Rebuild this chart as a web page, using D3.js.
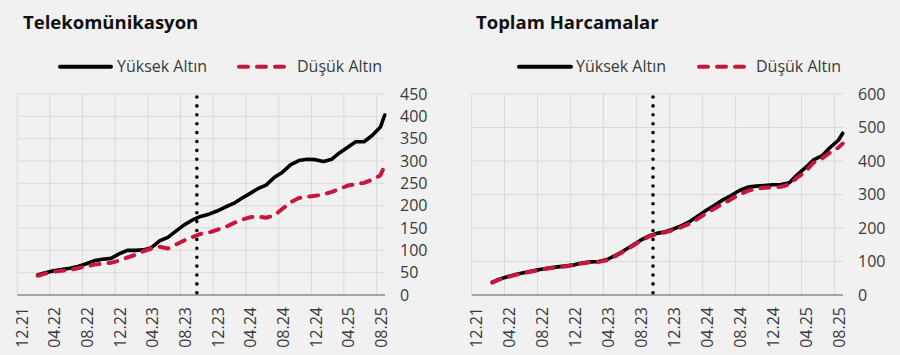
<!DOCTYPE html>
<html><head><meta charset="utf-8">
<script src="https://cdn.jsdelivr.net/npm/d3@7"></script>
<style>
html,body{margin:0;padding:0;background:#f1f1f1;}
svg{display:block;font-family:"Open Sans",sans-serif;}
</style>
</head><body>
<svg id="chart" width="900" height="355"></svg>
<script>
// ---- data ----
const titles = ["Telekomünikasyon", "Toplam Harcamalar"];
const seriesNames = ["Yüksek Altın", "Düşük Altın"];
const xTickLabels = ["12.21","04.22","08.22","12.22","04.23","08.23","12.23","04.24","08.24","12.24","04.25","08.25"];
const dates = [
 "2022-02-15","2022-03-15","2022-04-15","2022-05-15","2022-06-15","2022-07-15","2022-08-15","2022-09-15","2022-10-15","2022-11-15","2022-12-15",
 "2023-01-15","2023-02-15","2023-03-15","2023-04-15","2023-05-15","2023-06-15","2023-07-15","2023-08-15","2023-09-15","2023-10-15","2023-11-15","2023-12-15",
 "2024-01-15","2024-02-15","2024-03-15","2024-04-15","2024-05-15","2024-06-15","2024-07-15","2024-08-15","2024-09-15","2024-10-15","2024-11-15","2024-12-15",
 "2025-01-15","2025-02-15","2025-03-15","2025-04-15","2025-05-15","2025-06-15","2025-07-15","2025-08-15","2025-08-31"
];
const teleHigh = [45,50,54,57,60,64,70,77,80,82,92,100,100,101,106,121,129,143,157,168,176,181,188,197,205,216,227,238,246,263,275,292,301,304,303,299,304,318,331,343,343,357,376,403];
const teleLow  = [43,48,52,54,56,60,64,68,70,72,77,84,90,98,104,108,104,113,122,130,137,140,146,152,161,168,174,176,173,178,193,208,217,220,222,225,231,237,245,248,251,258,268,290];
const totalHigh = [38,48,55,62,67,72,77,81,84,87,90,96,99,100,106,118,132,147,163,176,184,189,197,207,220,236,253,268,284,297,312,322,325,327,329,330,335,358,380,403,415,440,462,483];
const totalLow  = [37,47,54,61,66,71,76,80,83,86,89,95,98,99,104,116,130,145,161,174,182,187,194,203,214,228,244,258,272,286,300,311,317,320,322,323,330,350,368,395,407,425,440,452];
const teleYTicks = [0,50,100,150,200,250,300,350,400,450];
const totalYTicks = [0,100,200,300,400,500,600];
const markerDate = "2023-10-01";
const axisStart = "2021-12-01", axisEnd = "2025-09-01";

// ---- drawing ----
const svg = d3.select("#chart");
const parseISO = d3.timeParse("%Y-%m-%d");
const parseLbl = d3.timeParse("%m.%y");
const RED = "#c8173f", TXT = "#3a3a3a", GRID = "#d9d9d9";

function panel(cfg) {
  const g = svg.append("g");
  const top = 94, bottom = 295;
  const x = d3.scaleTime().domain([parseISO(axisStart), parseISO(axisEnd)]).range([cfg.left, cfg.right]);
  const y = d3.scaleLinear().domain([0, d3.max(cfg.yTicks)]).range([bottom, top]);

  // horizontal grid
  g.append("g").selectAll("line").data(cfg.yTicks.filter(d => d > 0)).join("line")
    .attr("x1", cfg.left).attr("x2", cfg.right)
    .attr("y1", d => y(d)).attr("y2", d => y(d))
    .attr("stroke", GRID).attr("stroke-width", 1);
  // vertical grid (category boundaries)
  g.append("g").selectAll("line").data(xTickLabels.map(parseLbl)).join("line")
    .attr("x1", d => x(d)).attr("x2", d => x(d))
    .attr("y1", top).attr("y2", bottom)
    .attr("stroke", GRID).attr("stroke-width", 1);
  // baseline
  g.append("line").attr("x1", cfg.left).attr("x2", cfg.right)
    .attr("y1", y(0)).attr("y2", y(0)).attr("stroke", "#8a8a8a").attr("stroke-width", 1.6);

  // x axis labels (at category centre)
  const xa = d3.axisBottom(x)
    .tickValues(xTickLabels.map(l => d3.timeDay.offset(parseLbl(l), 15)))
    .tickFormat(d3.timeFormat("%m.%y")).tickSize(0);
  const xg = g.append("g").attr("transform", `translate(0,${bottom})`).call(xa);
  xg.select(".domain").remove();
  xg.selectAll("text")
    .attr("transform", "rotate(-90)")
    .attr("text-anchor", "end")
    .attr("x", -12).attr("y", 0).attr("dy", "0.36em")
    .attr("fill", TXT).style("font-size", "16px").style("font-family", '"Open Sans",sans-serif');

  // y axis labels on the right
  const ya = d3.axisRight(y).tickValues(cfg.yTicks).tickSize(0).tickFormat(d3.format("d"));
  const yg = g.append("g").attr("transform", `translate(${cfg.right + 15},0)`).call(ya);
  yg.select(".domain").remove();
  yg.selectAll("text").attr("x", 0).attr("text-anchor", "start")
    .attr("fill", TXT).style("font-size", "16px").style("font-family", '"Open Sans",sans-serif');

  const pts = dates.map(parseISO);
  const line = d3.line().x((d, i) => x(pts[i])).y(d => y(d)).curve(d3.curveLinear);

  // dotted marker
  g.append("line")
    .attr("x1", x(parseISO(markerDate))).attr("x2", x(parseISO(markerDate)))
    .attr("y1", top + 3).attr("y2", bottom + 1)
    .attr("stroke", "#000").attr("stroke-width", 3.6)
    .attr("stroke-linecap", "round").attr("stroke-dasharray", "0 8.9");

  g.append("path").datum(cfg.high).attr("d", line)
    .attr("fill", "none").attr("stroke", "#000").attr("stroke-width", 3.6)
    .attr("stroke-linejoin", "round").attr("stroke-linecap", "round");
  g.append("path").datum(cfg.low).attr("d", line)
    .attr("fill", "none").attr("stroke", RED).attr("stroke-width", 4)
    .attr("stroke-linejoin", "round").attr("stroke-linecap", "round")
    .attr("stroke-dasharray", "9 9");

  // title
  g.append("text").attr("x", cfg.titleX).attr("y", 28.5).text(cfg.title)
    .attr("fill", "#111").style("font-size", "18.5px").style("font-weight", 700);

  // legend
  const ly = 66.7;
  g.append("line").attr("x1", cfg.leg[0]).attr("x2", cfg.leg[1]).attr("y1", ly).attr("y2", ly)
    .attr("stroke", "#000").attr("stroke-width", 4).attr("stroke-linecap", "round");
  g.append("text").attr("x", cfg.leg[2]).attr("y", ly).attr("dy", "0.35em").text(seriesNames[0])
    .attr("fill", TXT).style("font-size", "16px");
  g.append("line").attr("x1", cfg.leg[3]).attr("x2", cfg.leg[4]).attr("y1", ly).attr("y2", ly)
    .attr("stroke", RED).attr("stroke-width", 4).attr("stroke-linecap", "round")
    .attr("stroke-dasharray", "9 9");
  g.append("text").attr("x", cfg.leg[5]).attr("y", ly).attr("dy", "0.35em").text(seriesNames[1])
    .attr("fill", TXT).style("font-size", "16px");
}

panel({left: 17.3, right: 385, yTicks: teleYTicks, high: teleHigh, low: teleLow,
       title: titles[0], titleX: 23, leg: [60, 111, 117, 239, 287, 297]});
panel({left: 471.7, right: 843, yTicks: totalYTicks, high: totalHigh, low: totalLow,
       title: titles[1], titleX: 476, leg: [519, 571, 576, 699, 745, 756]});
</script>
</body></html>
